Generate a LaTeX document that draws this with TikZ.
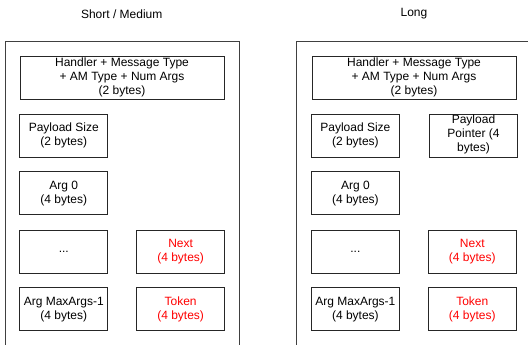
\documentclass[tikz,border=0pt]{standalone}
\usepackage{fontspec}
\setmainfont{Liberation Sans}
\begin{document}
\begin{tikzpicture}[x=1pt,y=-1pt,
  every node/.style={font=\fontsize{12}{14}\selectfont, align=center, inner sep=0pt},
  frame/.style={draw=black!75, line width=1pt},
  field/.style={draw=black!85, line width=1pt, minimum width=87.7pt, minimum height=43pt},
  wide/.style={field, minimum width=204pt, minimum height=43.3pt},
  extra/.style={text=red}]
\useasboundingbox (0,0) rectangle (528,345);
\clip (0,0) rectangle (528,345);

% panel titles
\node (t1) at (121.7,14) {Short / Medium};
\node (t2) at (414,14) {Long};

% outer frames (run past the lower and right edges)
\draw[frame] (5,360) -- (5,41.7) -- (239.5,41.7) -- (239.5,360);
\draw[frame] (296.7,360) -- (296.7,41.7) -- (540,41.7);

% Short / Medium message layout
\node[wide]  (sh)   at (122,77.7)    {Handler + Message Type\\+ AM Type + Num Args\\(2 bytes)};
\node[field] (sps)  at (63.8,135.8)  {Payload Size\\(2 bytes)};
\node[field] (sa0)  at (63.8,193.3)  {Arg 0\\(4 bytes)};
\node[field] (sdot) at (63.8,251.7)  {...};
\node[field] (sam)  at (63.8,309.3)  {Arg MaxArgs-1\\(4 bytes)};
\node[field, extra] (snx) at (180.6,251.7) {Next\\(4 bytes)};
\node[field, extra] (stk) at (180.6,309.3) {Token\\(4 bytes)};

% Long message layout
\node[wide]  (lh)   at (414,77.7)    {Handler + Message Type\\+ AM Type + Num Args\\(2 bytes)};
\node[field] (lps)  at (355.4,135.8) {Payload Size\\(2 bytes)};
\node[field] (lpp)  at (473.5,135.8) {};
\node at (473.5,134.6) {Payload\\Pointer (4\\bytes)};
\node[field] (la0)  at (355.4,193.3) {Arg 0\\(4 bytes)};
\node[field] (ldot) at (355.4,251.7) {...};
\node[field] (lam)  at (355.4,309.3) {Arg MaxArgs-1\\(4 bytes)};
\node[field, extra] (lnx) at (472.3,251.7) {Next\\(4 bytes)};
\node[field, extra] (ltk) at (472.3,309.3) {Token\\(4 bytes)};
\end{tikzpicture}
\end{document}
